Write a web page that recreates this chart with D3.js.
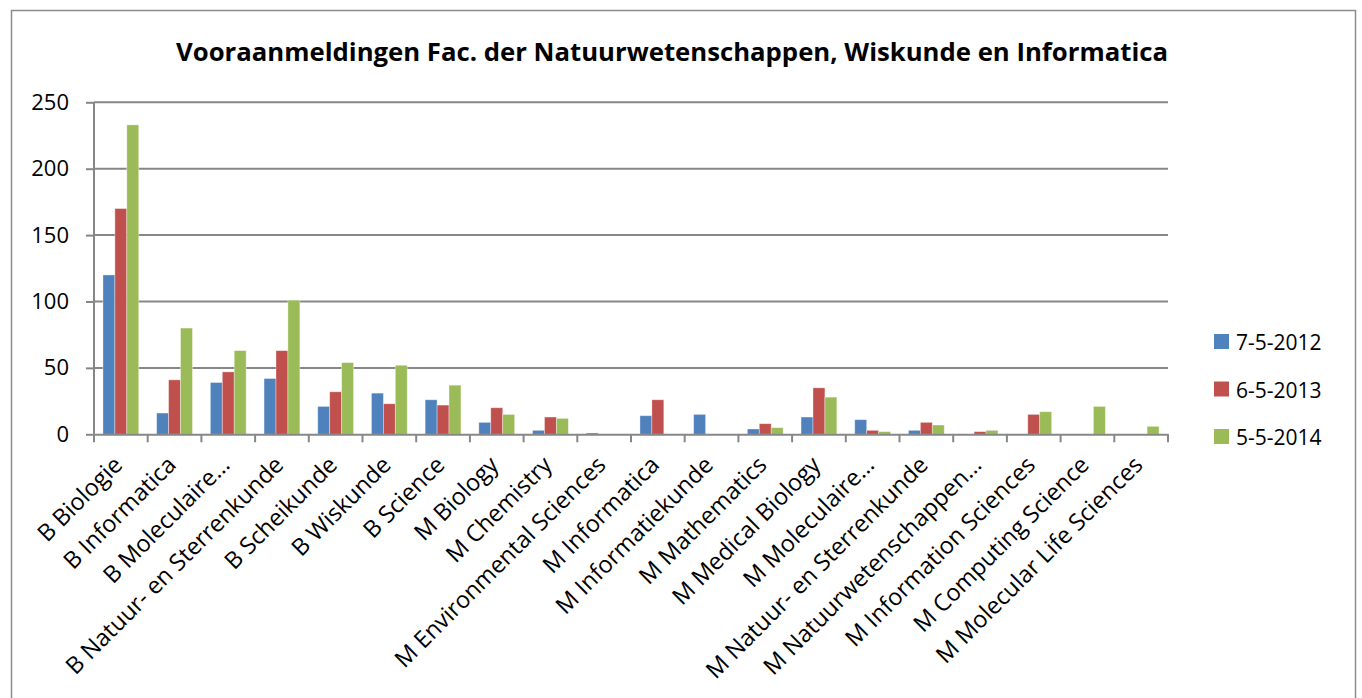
<!DOCTYPE html>
<html>
<head>
<meta charset="utf-8">
<script src="https://cdn.jsdelivr.net/npm/d3@7"></script>
<style>
  body { margin: 0; background: #fff; }
  svg { display: block; font-family: "Open Sans", sans-serif; }
</style>
</head>
<body>
<svg id="chart" width="1362" height="698"></svg>
<script>
// chart data
const categories = [
    "B Biologie", "B Informatica", "B Moleculaire…", "B Natuur- en Sterrenkunde",
    "B Scheikunde", "B Wiskunde", "B Science", "M Biology", "M Chemistry",
    "M Environmental Sciences", "M Informatica", "M Informatiekunde",
    "M Mathematics", "M Medical Biology", "M Moleculaire…",
    "M Natuur- en Sterrenkunde", "M Natuurwetenschappen…", "M Information Sciences",
    "M Computing Science", "M Molecular Life Sciences"
]
const seriesNames = ["7-5-2012", "6-5-2013", "5-5-2014"]
const values2012 = [120, 16, 39, 42, 21, 31, 26, 9, 3, 1, 14, 15, 4, 13, 11, 3, 0, 0, 0, 0]
const values2013 = [170, 41, 47, 63, 32, 23, 22, 20, 13, 0, 26, 0, 8, 35, 3, 9, 2, 15, 0, 0]
const values2014 = [233, 80, 63, 101, 54, 52, 37, 15, 12, 0, 0, 0, 5, 28, 2, 7, 3, 17, 21, 6]
const yTicks = [0, 50, 100, 150, 200, 250]
const colors = ["#4F81BD", "#C0504D", "#9BBB59"]

const allSeries = [values2012, values2013, values2014]

const svg = d3.select("#chart")
const marginLeft = 94, marginTop = 102.3, plotW = 1074, plotH = 332

// outer frame
svg.append("rect")
    .attr("x", 11.5).attr("y", 10.5)
    .attr("width", 1344).attr("height", 700)
    .attr("fill", "none").attr("stroke", "#8c8c8c").attr("stroke-width", 1.5)

svg.append("text")
    .attr("x", 672).attr("y", 61)
    .attr("text-anchor", "middle")
    .attr("font-size", 25).attr("font-weight", "bold")
    .attr("textLength", 992).attr("lengthAdjust", "spacingAndGlyphs")
    .text("Vooraanmeldingen Fac. der Natuurwetenschappen, Wiskunde en Informatica")

const x0 = d3.scaleBand().domain(categories).range([0, plotW])
// bars take 3 of 4.5 bar widths per category (gap width 150%)
const barW = x0.bandwidth() / 4.5
const x1 = d3.scaleBand().domain(seriesNames).range([barW * 0.75, barW * 3.75])

const y = d3.scaleLinear().domain([0, 250]).range([plotH, 0])

const g = svg.append("g").attr("transform", `translate(${marginLeft},${marginTop})`)

// gridlines
g.append("g")
    .selectAll("line").data(yTicks.filter(d => d > 0)).join("line")
    .attr("x1", 0).attr("x2", plotW)
    .attr("y1", d => y(d)).attr("y2", d => y(d))
    .attr("stroke", "#878787").attr("stroke-width", 2)

// bars
categories.forEach((c, i) => {
    const grp = g.append("g").attr("transform", `translate(${x0(c)},0)`)
    grp.selectAll("rect").data(allSeries.map((s, k) => ({ k, v: s[i] })).filter(d => d.v > 0))
        .join("rect")
        .attr("x", d => x1(seriesNames[d.k]))
        .attr("width", x1.bandwidth())
        .attr("y", d => y(d.v))
        .attr("height", d => plotH - y(d.v))
        .attr("fill", d => colors[d.k])
        .attr("stroke", "rgba(255,255,255,0.45)").attr("stroke-width", 0.8)
})

// y axis
const yAxis = g.append("g").call(d3.axisLeft(y).tickValues(yTicks).tickSize(8).tickPadding(17))
yAxis.select(".domain").attr("stroke", "#878787").attr("stroke-width", 2).attr("d", `M0,${plotH}V0`)
yAxis.selectAll(".tick line").attr("stroke", "#878787").attr("stroke-width", 2)
yAxis.selectAll(".tick text").attr("font-size", 22).attr("fill", "#000").attr("font-family", "Open Sans, sans-serif")

// x axis
const xAxis = g.append("g").attr("transform", `translate(0,${plotH})`)
    .call(d3.axisBottom(x0).tickSize(0).tickFormat(d => d))
xAxis.select(".domain").attr("stroke", "#878787").attr("stroke-width", 2)
xAxis.selectAll(".tick text")
    .attr("font-size", 23.5).attr("fill", "#000").attr("font-family", "Open Sans, sans-serif")
    .attr("text-anchor", "end")
    .attr("dy", 0).attr("y", 0)
    .attr("transform", "translate(3,32) rotate(-45)")
// boundary tick marks between categories
g.append("g").attr("transform", `translate(0,${plotH})`)
    .selectAll("line").data(d3.range(categories.length + 1)).join("line")
    .attr("x1", d => d * x0.step()).attr("x2", d => d * x0.step())
    .attr("y1", 0).attr("y2", 8)
    .attr("stroke", "#878787").attr("stroke-width", 2)

// legend
const legend = svg.append("g").attr("transform", "translate(1214,334)")
seriesNames.forEach((s, k) => {
    const row = legend.append("g").attr("transform", `translate(0,${k * 47.5})`)
    row.append("rect").attr("width", 15).attr("height", 15).attr("fill", colors[k])
    row.append("text").attr("x", 22).attr("y", 16)
        .attr("font-size", 21).attr("fill", "#000").text(s)
})
</script>
</body>
</html>
